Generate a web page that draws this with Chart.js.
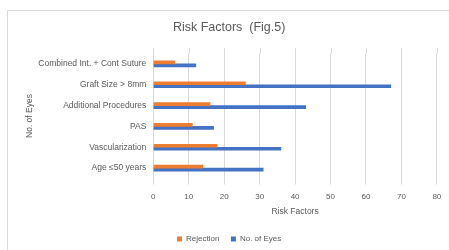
<!DOCTYPE html>
<html>
<head>
<meta charset="utf-8">
<script src="https://cdn.jsdelivr.net/npm/chart.js@4/dist/chart.umd.min.js"></script>
<style>
  html, body { margin: 0; padding: 0; background: #fff; }
  #wrap { width: 449px; height: 250px; position: relative; }
</style>
</head>
<body>
<div id="wrap"><canvas id="c" width="449" height="250"></canvas></div>
<script>
const categories = ["Combined Int. + Cont Suture", "Graft Size > 8mm", "Additional Procedures", "PAS", "Vascularization", "Age \u226450 years"];
const rejection = [6, 26, 16, 11, 18, 14];
const noOfEyes = [12, 67, 43, 17, 36, 31];
const xTicks = [0, 10, 20, 30, 40, 50, 60, 70, 80];

const GRID = '#d9d9d9';
const TEXT = '#595959';
const FONT = "'Liberation Sans', Arial, sans-serif";

const frame = {
  id: 'frame',
  beforeDraw(chart) {
    const ctx = chart.ctx;
    ctx.save();
    ctx.fillStyle = '#fff';
    ctx.fillRect(0, 0, 449, 250);
    ctx.strokeStyle = GRID;
    ctx.lineWidth = 1;
    ctx.beginPath();
    ctx.moveTo(7.5, 250);
    ctx.lineTo(7.5, 10.5);
    ctx.lineTo(449, 10.5);
    ctx.stroke();
    ctx.restore();
  },
  beforeDatasetsDraw(chart) {
    const ctx = chart.ctx;
    const xs = chart.scales.x;
    const top = chart.chartArea.top;
    ctx.save();
    ctx.strokeStyle = GRID;
    ctx.lineWidth = 1;
    xs.ticks.forEach(t => {
      const px = Math.round(xs.getPixelForValue(t.value)) + 0.5;
      ctx.beginPath();
      ctx.moveTo(px, top - 5.5);
      ctx.lineTo(px, top);
      ctx.stroke();
    });
    ctx.restore();
  }
};

new Chart(document.getElementById('c'), {
  type: 'bar',
  data: {
    labels: categories,
    datasets: [
      { label: 'Rejection', data: rejection, backgroundColor: '#ED7D31', borderWidth: 0, barThickness: 3 },
      { label: 'No. of Eyes', data: noOfEyes, backgroundColor: '#4472C4', borderWidth: 0, barThickness: 3 }
    ]
  },
  options: {
    indexAxis: 'y',
    responsive: false,
    animation: false,
    layout: { padding: { left: 20.6, right: 11.3, top: 0, bottom: -3 } },
    plugins: {
      title: {
        display: true,
        text: 'Risk Factors  (Fig.5)',
        color: TEXT,
        font: { family: FONT, size: 12.5, weight: 'normal', lineHeight: 1.2 },
        padding: { top: 20.5, bottom: 18.0 }
      },
      legend: {
        position: 'bottom',
        labels: {
          color: TEXT,
          font: { family: FONT, size: 8 },
          boxWidth: 5,
          boxHeight: 5,
          padding: 11.5
        }
      },
      tooltip: { enabled: false }
    },
    scales: {
      x: {
        type: 'linear',
        min: 0,
        max: 80,
        afterBuildTicks(scale) { scale.ticks = xTicks.map(v => ({ value: v })); },
        afterFit(scale) { scale.height = 45; },
        grid: { color: GRID, drawTicks: true, tickLength: 6, tickColor: GRID },
        border: { display: false },
        ticks: { color: TEXT, font: { family: FONT, size: 8 }, padding: 7.7, maxRotation: 0 },
        title: {
          display: true,
          text: 'Risk Factors',
          color: TEXT,
          font: { family: FONT, size: 8.5, lineHeight: 1.2 },
          padding: { top: 7, bottom: 7 }
        }
      },
      y: {
        type: 'category',
        afterFit(scale) { scale.width = 132.7; },
        grid: { display: false, drawTicks: false },
        border: { display: false },
        ticks: { color: TEXT, font: { family: FONT, size: 8.5 }, padding: 7 },
        title: {
          display: true,
          text: 'No. of Eyes',
          color: TEXT,
          font: { family: FONT, size: 8.5, lineHeight: 1.2 },
          padding: { top: 4, bottom: 4 }
        }
      }
    }
  },
  plugins: [frame]
});
</script>
</body>
</html>
